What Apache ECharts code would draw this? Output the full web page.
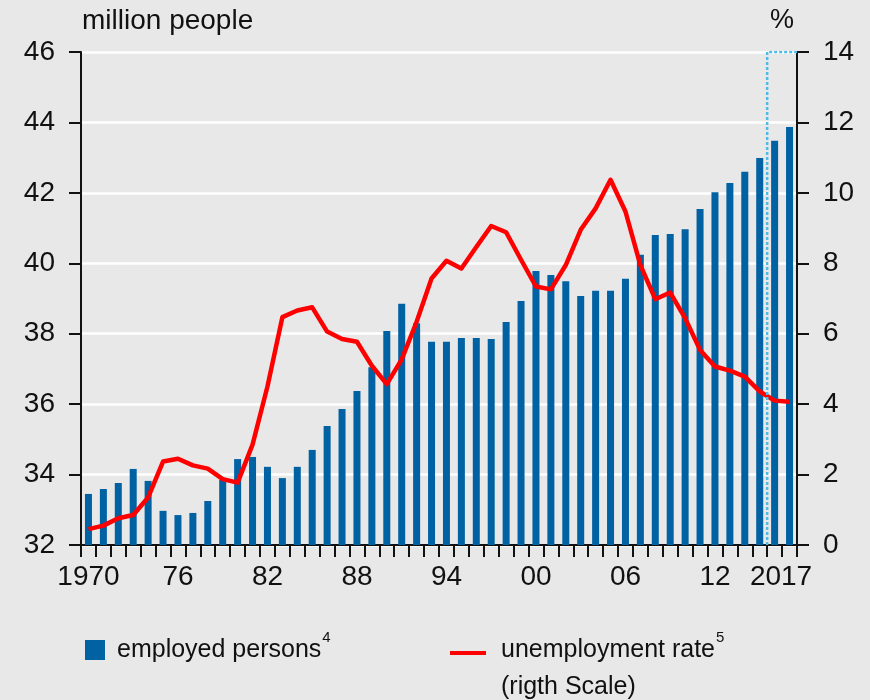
<!DOCTYPE html>
<html>
<head>
<meta charset="utf-8">
<script src="https://cdn.jsdelivr.net/npm/echarts@6/dist/echarts.min.js"></script>
<style>
  html, body { margin: 0; padding: 0; background: #e8e8e8; }
  #chart { width: 870px; height: 700px; }
</style>
</head>
<body>
<div id="chart"></div>
<script>
// Employment in Germany, 1970–2017
const years = [
  '1970','1971','1972','1973','1974','1975','1976','1977','1978','1979',
  '1980','1981','1982','1983','1984','1985','1986','1987','1988','1989',
  '1990','1991','1992','1993','1994','1995','1996','1997','1998','1999',
  '2000','2001','2002','2003','2004','2005','2006','2007','2008','2009',
  '2010','2011','2012','2013','2014','2015','2016','2017'
];

// employed persons, million
const employed = [
  33.45, 33.59, 33.76, 34.16, 33.82, 32.97, 32.85, 32.91, 33.25, 33.85,
  34.44, 34.50, 34.22, 33.90, 34.22, 34.70, 35.38, 35.86, 36.37, 37.05,
  38.08, 38.85, 38.30, 37.77, 37.77, 37.88, 37.88, 37.85, 38.33, 38.93,
  39.78, 39.67, 39.49, 39.07, 39.22, 39.22, 39.56, 40.24, 40.80, 40.83,
  40.97, 41.54, 42.02, 42.28, 42.60, 42.99, 43.48, 43.87
];

// unemployment rate, % (right scale)
const unemploymentRate = [
  0.45, 0.55, 0.76, 0.85, 1.35, 2.37, 2.45, 2.26, 2.17, 1.87,
  1.77, 2.85, 4.50, 6.47, 6.66, 6.75, 6.06, 5.85, 5.77, 5.09,
  4.57, 5.27, 6.34, 7.57, 8.07, 7.85, 8.46, 9.06, 8.88, 8.10,
  7.34, 7.26, 7.95, 8.95, 9.56, 10.37, 9.47, 7.95, 6.98, 7.17,
  6.44, 5.54, 5.07, 4.95, 4.78, 4.36, 4.10, 4.07
];

// category axis labels
const xTickYears  = ['1970','1976','1982','1988','1994','2000','2006','2012','2017'];
const xTickLabels = ['1970','76','82','88','94','00','06','12','2017'];

// left and right scales
const leftMin = 32, leftMax = 46, leftStep = 2;
const rightMin = 0, rightMax = 14, rightStep = 2;

// first year shown as projection
const firstProjectionYear = '2016';

const FONT = "'Liberation Sans', Arial, sans-serif";
const INK = '#111111';

const projIdx = years.indexOf(firstProjectionYear);
const projectionFrame = [
  [projIdx, leftMin],
  [projIdx, leftMax],
  [years.length, leftMax]
];

const chart = echarts.init(document.getElementById('chart'), null, { renderer: 'canvas' });

const lastYear = years[years.length - 1];

const supStyle = { fontSize: 15, lineHeight: 15, color: INK, fontFamily: FONT, verticalAlign: 'top', padding: [0, 0, 0, 1] };

chart.setOption({
  backgroundColor: '#e8e8e8',
  animation: false,
  textStyle: { fontFamily: FONT, color: INK },
  grid: { left: 81, right: 73, top: 52, bottom: 155, containLabel: false },
  xAxis: [
    {
      type: 'category',
      data: years,
      boundaryGap: true,
      axisLine: { lineStyle: { color: INK, width: 2 } },
      axisTick: {
        show: true, interval: 0, length: 12, inside: false,
        lineStyle: { color: INK, width: 2 }
      },
      axisLabel: {
        interval: (i, v) => xTickYears.indexOf(v) >= 0,
        margin: 18,
        fontSize: 28,
        color: INK,
        fontFamily: FONT,
        formatter: v => {
          const lbl = xTickLabels[xTickYears.indexOf(v)];
          return v === lastYear ? '{last|' + lbl + '}' : lbl;
        },
        rich: { last: { fontSize: 28, fontFamily: FONT, color: INK, padding: [0, 17, 0, 0] } }
      },
      splitLine: { show: false }
    },
    {
      type: 'value',
      min: 0,
      max: years.length,
      show: false
    }
  ],
  yAxis: [
    {
      type: 'value',
      position: 'left',
      min: leftMin, max: leftMax, interval: leftStep,
      axisLine: { show: true, lineStyle: { color: INK, width: 2 } },
      axisTick: { show: true, length: 12, lineStyle: { color: INK, width: 2 } },
      axisLabel: { fontSize: 28, color: INK, margin: 26, fontFamily: FONT },
      splitLine: { show: true, lineStyle: { color: '#ffffff', width: 2.5 } }
    },
    {
      type: 'value',
      position: 'right',
      min: rightMin, max: rightMax, interval: rightStep,
      axisLine: { show: true, lineStyle: { color: INK, width: 2 } },
      axisTick: { show: true, length: 12, lineStyle: { color: INK, width: 2 } },
      axisLabel: { fontSize: 28, color: INK, margin: 26, fontFamily: FONT },
      splitLine: { show: false }
    }
  ],
  legend: [
    {
      data: [{ name: 'employed persons', icon: 'rect' }],
      left: 85, top: 630, padding: 0,
      itemWidth: 20, itemHeight: 20,
      formatter: n => n + '{sup|4}',
      textStyle: {
        fontSize: 25, lineHeight: 40, color: INK, fontFamily: FONT, padding: [0, 0, 0, 7],
        rich: { sup: supStyle }
      },
      selectedMode: false
    },
    {
      data: [{ name: 'unemployment rate', icon: 'rect' }],
      left: 450, top: 630, padding: 0,
      itemWidth: 36, itemHeight: 4,
      formatter: n => n + '{sup|5}',
      textStyle: {
        fontSize: 25, lineHeight: 40, color: INK, fontFamily: FONT, padding: [0, 0, 6, 10],
        rich: { sup: supStyle }
      },
      selectedMode: false
    }
  ],
  graphic: [
    { type: 'text', left: 82, top: 7, style: { text: 'million people', font: '28px ' + FONT, fill: INK } },
    { type: 'text', left: 770, top: 7, style: { text: '%', font: '27px ' + FONT, fill: INK } },
    { type: 'text', left: 501, top: 675, style: { text: '(rigth Scale)', font: '25px ' + FONT, fill: INK } }
  ],
  series: [
    {
      name: 'employed persons',
      type: 'bar',
      xAxisIndex: 0, yAxisIndex: 0,
      data: employed,
      barWidth: 7,
      itemStyle: { color: '#0061a3' },
      z: 2
    },
    {
      name: 'unemployment rate',
      type: 'line',
      xAxisIndex: 0, yAxisIndex: 1,
      data: unemploymentRate,
      symbol: 'none',
      lineStyle: { color: '#ff0000', width: 4.5, join: 'round' },
      itemStyle: { color: '#ff0000' },
      z: 4
    },
    {
      name: 'projection',
      type: 'line',
      xAxisIndex: 1, yAxisIndex: 0,
      data: projectionFrame,
      symbol: 'none',
      silent: true,
      lineStyle: { color: '#4cbce9', width: 2.5, type: [3, 2] },
      z: 5
    }
  ]
});
</script>
</body>
</html>
